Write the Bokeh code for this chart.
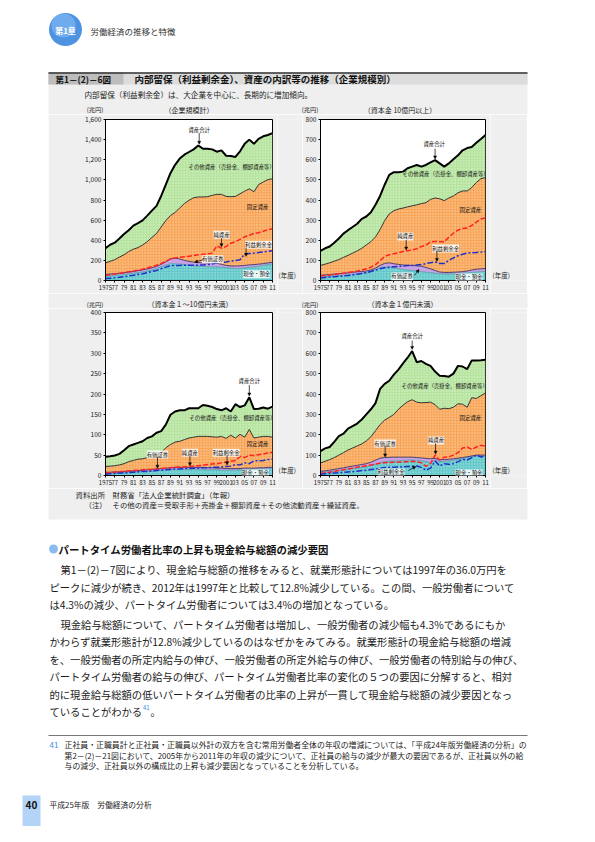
from bokeh.plotting import figure
from bokeh.layouts import column, row
from bokeh.models import (Range1d, FixedTicker, NumeralTickFormatter, Label, Arrow,
                          NormalHead, Spacer)
from bokeh.embed import file_html
from bokeh.resources import INLINE
from bokeh.core.properties import value

FONT = "Noto Sans CJK JP"
GRAY = "#efefef"

years = list(range(1975, 2012))
x_tick_years = [1975, 1977, 1979, 1981, 1983, 1985, 1987, 1989, 1991, 1993, 1995,
                1997, 1999, 2001, 2003, 2005, 2007, 2009, 2011]
x_tick_labels = ["1975", "77", "79", "81", "83", "85", "87", "89", "91", "93", "95",
                 "97", "99", "2001", "03", "05", "07", "09", "11"]

# ---------------- 企業規模計 (兆円) ----------------
total1 = [321, 355, 376, 418, 462, 499, 545, 570, 598, 645, 694, 742, 840, 953, 1066, 1150,
          1212, 1250, 1277, 1303, 1342, 1310, 1310, 1303, 1280, 1293, 1240, 1238, 1228, 1284,
          1358, 1400, 1358, 1407, 1433, 1446, 1465]
fixed1 = [175, 191, 207, 233, 256, 288, 311, 327, 353, 386, 428, 467, 532, 596, 645, 677,
          720, 765, 797, 823, 830, 830, 833, 846, 856, 856, 836, 833, 836, 862,
          888, 911, 882, 953, 979, 1002, 1011]
sec1 = [60, 64, 68, 72, 77, 84, 90, 98, 106, 115, 126, 140, 160, 185, 214, 224,
        214, 200, 190, 182, 178, 176, 175, 175, 172, 160, 150, 145, 143, 146,
        150, 155, 158, 162, 168, 175, 182]
cash1 = [42, 46, 50, 55, 60, 66, 72, 78, 85, 94, 104, 118, 135, 152, 168, 166,
         163, 158, 152, 147, 143, 140, 138, 136, 134, 132, 128, 122, 117, 120,
         125, 130, 135, 140, 150, 158, 165]
net1 = [52, 58, 64, 71, 78, 86, 94, 103, 113, 125, 138, 152, 170, 192, 214, 224,
        230, 236, 241, 248, 256, 260, 266, 272, 344, 321, 337, 370, 386, 408,
        434, 450, 467, 475, 490, 505, 515]
ret1 = [19, 23, 27, 32, 38, 45, 52, 60, 68, 78, 90, 100, 117, 133, 149, 150,
        150, 151, 152, 152, 152, 155, 159, 165, 175, 180, 185, 192, 198, 207,
        263, 268, 272, 278, 285, 290, 295]

# ---------------- 資本金10億円以上 ----------------
total2 = [147, 160, 169, 188, 209, 233, 250, 266, 282, 306, 318, 339, 376, 420, 476, 525,
          538, 538, 541, 558, 566, 574, 566, 574, 587, 598, 582, 566, 582, 603,
          622, 647, 658, 663, 684, 703, 723]
fixed2 = [75, 81, 88, 96, 104, 115, 125, 136, 147, 160, 177, 193, 217, 253, 298, 331,
          347, 355, 360, 366, 371, 376, 382, 387, 403, 410, 406, 397, 410, 420,
          436, 445, 445, 462, 487, 506, 512]
sec2 = [26, 28, 30, 32, 34, 36, 38, 41, 43, 45, 47, 52, 62, 75, 85, 88,
        83, 80, 77, 76, 75, 73, 71, 65, 58, 50, 42, 40, 40, 41,
        42, 44, 47, 52, 56, 58, 60]
cash2 = [18, 19, 21, 23, 25, 27, 29, 31, 33, 36, 39, 45, 55, 63, 68, 66,
         63, 59, 55, 52, 50, 47, 44, 41, 39, 36, 33, 32, 32, 33,
         34, 36, 38, 40, 42, 44, 45]
net2 = [23, 25, 27, 30, 33, 36, 39, 43, 47, 52, 58, 66, 79, 98, 120, 128,
        133, 138, 144, 148, 152, 158, 169, 175, 192, 194, 193, 192, 215, 235,
        250, 258, 261, 274, 290, 306, 310]
ret2 = [13, 15, 17, 19, 21, 23, 25, 28, 31, 35, 39, 45, 52, 58, 63, 66,
        68, 70, 72, 74, 75, 77, 79, 84, 88, 92, 84, 84, 100, 112,
        123, 130, 136, 138, 139, 141, 144]

# ---------------- 資本金1～10億円未満 ----------------
total3 = [46, 47, 49, 53, 62, 72, 76, 80, 84, 92, 96, 105, 109, 125, 149, 157,
          160, 160, 165, 165, 165, 173, 171, 168, 163, 160, 165, 157, 175, 168,
          172, 192, 163, 164, 167, 164, 169]
fixed3 = [22, 23, 24, 26, 29, 34, 37, 40, 41, 44, 48, 52, 56, 68, 76, 82,
          84, 88, 92, 94, 96, 96, 96, 95, 94, 96, 91, 99, 92, 101,
          94, 113, 92, 94, 96, 96, 94]
sec3 = [8, 8, 9, 9, 10, 11, 11, 12, 13, 14, 15, 16, 17, 18, 19, 20,
        20, 20, 20, 20, 20, 20, 19, 19, 18, 18, 17, 17, 17, 17,
        18, 18, 18, 19, 19, 20, 20]
cash3 = [5, 5, 6, 6, 7, 8, 8, 9, 10, 10, 11, 12, 13, 14, 15, 15,
         15, 15, 15, 15, 15, 15, 14, 14, 14, 13, 13, 13, 13, 14,
         15, 15, 15, 16, 16, 16, 17]
net3 = [6, 7, 8, 9, 10, 11, 12, 13, 14, 15, 15, 16, 17, 18, 19, 20,
        21, 21, 22, 23, 24, 25, 27, 28, 29, 31, 33, 35, 37, 47,
        44, 50, 49, 51, 53, 55, 57]
ret3 = [3, 4, 5, 6, 6, 7, 8, 9, 10, 10, 11, 12, 13, 14, 15, 16,
        16, 17, 17, 18, 18, 19, 19, 20, 20, 21, 22, 23, 27, 26,
        31, 29, 36, 36, 37, 39, 40]

# ---------------- 資本金1億円未満 ----------------
total4 = [120, 133, 140, 165, 193, 205, 230, 242, 255, 275, 300, 325, 355, 425, 450, 465,
          495, 520, 550, 578, 611, 556, 562, 548, 538, 510, 490, 488, 485, 500,
          538, 535, 522, 565, 565, 566, 568]
fixed4 = [62, 70, 78, 88, 100, 112, 125, 135, 145, 155, 170, 190, 220, 250, 272, 285,
          300, 325, 345, 362, 372, 360, 357, 358, 360, 348, 325, 330, 328, 335,
          352, 350, 335, 382, 378, 392, 405]
sec4 = [20, 23, 26, 30, 34, 38, 42, 46, 50, 54, 58, 65, 75, 85, 88, 89,
        90, 90, 90, 90, 90, 88, 86, 84, 82, 84, 78, 78, 80, 82,
        85, 88, 92, 96, 100, 100, 100]
cash4 = [15, 17, 19, 22, 25, 28, 31, 34, 37, 40, 42, 48, 55, 62, 68, 70,
         71, 72, 74, 75, 76, 74, 72, 68, 63, 75, 68, 70, 71, 74,
         79, 83, 88, 92, 96, 95, 94]
net4 = [10, 13, 16, 20, 24, 28, 32, 36, 40, 44, 48, 52, 56, 60, 63, 64,
        65, 66, 67, 68, 70, 68, 62, 45, 58, 100, 75, 90, 92, 100,
        112, 135, 140, 128, 140, 148, 144]
ret4 = [6, 8, 10, 12, 14, 15, 17, 19, 21, 24, 26, 29, 32, 36, 39, 40,
        41, 42, 42, 44, 45, 47, 40, 26, 36, 71, 47, 58, 55, 58,
        68, 79, 76, 88, 100, 91, 96]

subtitles = ["（企業規模計）", "（資本金 10億円以上）", "（資本金１～10億円未満）", "（資本金１億円未満）"]
unit_label = "(兆円)"
year_label = "(年度)"

TEAL = "#5cc6c8"
LILAC = "#c7a3e3"
ORANGE = "#f8a353"
GREEN = "#b3e39b"

LAB_OTHER = "その他資産（売掛金、棚卸資産等）"


def idx(y):
    return y - 1975


def make_chart(total, fixed, sec, cash, net, ret, ymax, ystep,
               width, height, bl, br, bt, bb, ann):
    p = figure(width=width, height=height, x_range=Range1d(1975, 2011),
               y_range=Range1d(0, ymax), output_backend="svg", toolbar_location=None,
               min_border_left=bl, min_border_right=br, min_border_top=bt,
               min_border_bottom=bb)
    p.background_fill_color = "white"
    p.border_fill_color = GRAY
    p.outline_line_color = "black"
    p.outline_line_width = 1
    p.grid.grid_line_color = None
    zeros = [0] * len(years)
    hatch = dict(hatch_pattern="dot", hatch_color="white", hatch_alpha=0.7,
                 hatch_scale=2.8, hatch_weight=0.8)
    p.varea(x=years, y1=zeros, y2=cash, fill_color=TEAL, **hatch)
    p.varea(x=years, y1=cash, y2=sec, fill_color=LILAC)
    p.varea(x=years, y1=sec, y2=fixed, fill_color=ORANGE, **hatch)
    p.varea(x=years, y1=fixed, y2=total, fill_color=GREEN, **hatch)
    p.line(years, cash, line_color="#2d8e96", line_width=0.6)
    p.line(years, sec, line_color="#3b2f66", line_width=0.9)
    p.line(years, fixed, line_color="#222222", line_width=0.9)
    p.line(years, net, line_color="#ff2222", line_width=1.5, line_dash="5 2")
    p.line(years, ret, line_color="#1f30c8", line_width=1.5, line_dash="6 2 2 2")
    p.line(years, total, line_color="black", line_width=2)

    p.yaxis.ticker = FixedTicker(ticks=list(range(0, ymax + 1, ystep)))
    p.yaxis.formatter = NumeralTickFormatter(format="0,0")
    p.xaxis.ticker = FixedTicker(ticks=x_tick_years)
    p.xaxis.major_label_overrides = dict(zip(x_tick_years, x_tick_labels))
    for ax in (p.xaxis, p.yaxis):
        ax.major_label_text_font = FONT
        ax.major_label_text_color = "#222222"
        ax.major_tick_in = 0
        ax.major_tick_out = 2
        ax.minor_tick_in = 0
        ax.minor_tick_out = 0
        ax.axis_line_color = "black"
        ax.major_label_standoff = 2
    p.yaxis.major_label_text_font_size = "6.6px"
    p.xaxis.major_label_text_font_size = "6px"

    for (tx, ty, txt_, boxed, arrow) in ann:
        lab = Label(x=tx, y=ty, text=txt_, text_font=FONT, text_font_size="5.4px",
                    text_align="center", text_baseline="middle", text_color="#111111")
        if boxed:
            lab.background_fill_color = "white"
            lab.background_fill_alpha = 0.85
        p.add_layout(lab)
        if arrow is not None:
            x0, y0, x1, y1 = arrow
            p.add_layout(Arrow(end=NormalHead(size=3, line_color="black",
                                              fill_color="black", line_width=0.5),
                               x_start=x0, y_start=y0, x_end=x1, y_end=y1,
                               line_color="black", line_width=0.7))
    return p


ann1 = [
    (1995.2, 1500, "資産合計", False, (1995.2, 1465, 1995.2, total1[idx(1995)] + 12)),
    (2002.2, 1130, LAB_OTHER, False, None),
    (2007.8, 726, "固定資産", False, None),
    (2000.0, 454, "純資産", True, (2000.0, 420, 2000.0, net1[idx(2000)] + 15)),
    (2008.0, 355, "利益剰余金", True, (2005.3, 325, 2005.3, 240)),
    (1998.1, 212, "有価証券", True, (1996.0, 205, 1994.2, sec1[idx(1994)])),
    (2007.6, 63, "現金・預金", True, None),
]
ann2 = [
    (1999.8, 676, "資産合計", False, (2000.0, 655, 2000.0, total2[idx(2000)] + 6)),
    (2002.3, 527, LAB_OTHER, False, None),
    (2007.7, 348, "固定資産", False, None),
    (1993.5, 219, "純資産", True, (1993.7, 202, 1993.7, net2[idx(1994)] + 3)),
    (2002.3, 159, "利益剰余金", True, (2000.4, 146, 2000.4, ret2[idx(2000)] + 3)),
    (1992.8, 20, "有価証券", True, (1995.5, 25, 1996.5, 55)),
    (2007.4, 15, "現金・預金", True, None),
]
ann3 = [
    (2006.0, 231, "資産合計", False, (2006.0, 222, 2006.0, total3[idx(2006)] + 3)),
    (2002.4, 140, LAB_OTHER, False, None),
    (2007.8, 78.5, "固定資産", False, None),
    (1986.2, 51.5, "有価証券", True, (1986.2, 45, 1986.2, sec3[idx(1986)] + 2)),
    (1993.2, 56, "純資産", True, (1993.2, 49, 1993.2, net3[idx(1993)] + 2)),
    (2001.0, 56, "利益剰余金", True, (2001.2, 49, 2001.2, ret3[idx(2001)] + 4)),
    (2007.3, 5, "現金・預金", True, None),
]
ann4 = [
    (1995.0, 687, "資産合計", False, (1995.0, 662, 1995.0, total4[idx(1995)] + 8)),
    (2002.1, 437, LAB_OTHER, False, None),
    (2007.7, 280, "固定資産", False, None),
    (1989.1, 157, "有価証券", True, (1989.1, 143, 1989.1, sec4[idx(1989)] + 3)),
    (2000.2, 172, "純資産", True, (2000.1, 158, 2000.1, net4[idx(2000)] + 5)),
    (1990.4, 15, "利益剰余金", True, (1994.2, 25, 1995.8, ret4[idx(1996)] - 3)),
    (2007.4, 10, "現金・預金", True, None),
]

# chart figures: row 1 page y 122-301 (frame 127-288); row 2 page y 316-496 (frame 320-483)
c1 = make_chart(total1, fixed1, sec1, cash1, net1, ret1, 1600, 200, 229, 179, 57, 5, 5, 13, ann1)
c2 = make_chart(total2, fixed2, sec2, cash2, net2, ret2, 800, 100, 188, 179, 17, 5, 5, 13, ann2)
c3 = make_chart(total3, fixed3, sec3, cash3, net3, ret3, 400, 50, 229, 180, 57, 5, 4, 13, ann3)
c4 = make_chart(total4, fixed4, sec4, cash4, net4, ret4, 800, 100, 188, 180, 17, 5, 4, 13, ann4)


def page_fig(x0, x1, y0, y1, bg="white"):
    p = figure(width=x1 - x0, height=y1 - y0, x_range=Range1d(x0, x1),
               y_range=Range1d(y1, y0), output_backend="svg", toolbar_location=None,
               x_axis_location=None, y_axis_location=None, min_border=0)
    p.outline_line_color = None
    p.background_fill_color = bg
    p.border_fill_color = bg
    p.xgrid.visible = False
    p.ygrid.visible = False
    return p


def txt(p, x, y, s, size, color="#222222", bold=False, align="left"):
    p.text(x=[x], y=[y], text=[s], text_font=value(FONT), text_font_size=size,
           text_color=color, text_baseline="middle", text_align=align,
           text_font_style="bold" if bold else "normal")


def chart_heads(p, y, sub_left, sub_right, subx_left, subx_right):
    txt(p, 102.5, y, unit_label, "6.2px", align="center")
    txt(p, subx_left, y, sub_left, "7px", align="center")
    txt(p, 317.5, y, unit_label, "6.2px", align="center")
    txt(p, subx_right, y, sub_right, "7px", align="center")


# ---------------- header (page y 8-122) ----------------
hdr = page_fig(8, 587, 8, 122)
hdr.circle(x=[73], y=[37], radius=16.5, fill_color="#4e92e2", line_color=None)
hdr.circle(x=[71], y=[33], radius=12, fill_color="#8cc1f5", fill_alpha=0.55, line_color=None)
txt(hdr, 73, 38, "第1章", "8px", color="white", bold=True, align="center")
txt(hdr, 98, 38, "労働経済の推移と特徴", "8.5px", color="#333333")
hdr.quad(left=[56], right=[535], top=[80], bottom=[122], fill_color=GRAY, line_color=None)
hdr.quad(left=[56], right=[535], top=[80], bottom=[92], fill_color="#dcdcdc", line_color=None)
hdr.quad(left=[56], right=[131], top=[80], bottom=[92], fill_color="#bdbdbd", line_color=None)
hdr.segment(x0=[56], y0=[80.5], x1=[535], y1=[80.5], line_color="#333333", line_width=1.5)
txt(hdr, 63, 86.5, "第1－(2)－6図", "8.5px", color="#111111", bold=True)
txt(hdr, 142, 86.5, "内部留保（利益剰余金）、資産の内訳等の推移（企業規模別）", "9.5px",
    color="#111111", bold=True)
txt(hdr, 92, 101.5, "内部留保（利益剰余金）は、大企業を中心に、長期的に増加傾向。", "7.6px",
    color="#222222")
chart_heads(hdr, 117, subtitles[0], subtitles[1], 196.5, 407.5)

# ---------------- strip between the two chart rows (page y 301-316) ----------------
mid = page_fig(8, 587, 301, 316)
mid.quad(left=[56], right=[535], top=[301], bottom=[316], fill_color=GRAY, line_color=None)
chart_heads(mid, 311.7, subtitles[2], subtitles[3], 197.5, 410)


def year_strips(y0, y1, ty):
    a = page_fig(285, 310, y0, y1, bg=GRAY)
    txt(a, 286, ty, year_label, "6.5px")
    b = page_fig(498, 535, y0, y1, bg=GRAY)
    txt(b, 500, ty, year_label, "6.5px")
    return a, b


s1a, s1b = year_strips(122, 301, 295)
s2a, s2b = year_strips(316, 496, 490)

# ---------------- footer (page y 496-834) ----------------
ftr = page_fig(8, 587, 496, 834)
ftr.quad(left=[56], right=[535], top=[496], bottom=[527], fill_color=GRAY, line_color=None)
txt(ftr, 83, 502, "資料出所", "7.4px")
txt(ftr, 120, 502, "財務省「法人企業統計調査」（年報）", "7.4px")
txt(ftr, 92, 512, "（注）", "7.4px")
txt(ftr, 120, 512, "その他の資産＝受取手形＋売掛金＋棚卸資産＋その他流動資産＋繰延資産。", "7.4px")

ftr.circle(x=[61], y=[556.5], radius=4.5, fill_color="#8bbcf0", line_color=None)
txt(ftr, 66, 556.5, "パートタイム労働者比率の上昇も現金給与総額の減少要因", "10.4px",
    color="#111111", bold=True)

body = [
    (68, 577, "第1－(2)－7図により、現金給与総額の推移をみると、就業形態計については1997年の36.0万円を"),
    (57, 594.5, "ピークに減少が続き、2012年は1997年と比較して12.8%減少している。この間、一般労働者について"),
    (57, 612, "は4.3%の減少、パートタイム労働者については3.4%の増加となっている。"),
    (68, 631.5, "現金給与総額について、パートタイム労働者は増加し、一般労働者の減少幅も4.3%であるにもか"),
    (57, 649, "かわらず就業形態計が12.8%減少しているのはなぜかをみてみる。就業形態計の現金給与総額の増減"),
    (57, 666.5, "を、一般労働者の所定内給与の伸び、一般労働者の所定外給与の伸び、一般労働者の特別給与の伸び、"),
    (57, 684, "パートタイム労働者の給与の伸び、パートタイム労働者比率の変化の５つの要因に分解すると、相対"),
    (57, 701.5, "的に現金給与総額の低いパートタイム労働者の比率の上昇が一貫して現金給与総額の減少要因となっ"),
    (57, 719, "ていることがわかる"),
]
for bx, by, s in body:
    txt(ftr, bx, by, s, "10.3px", color="#1a1a1a")
txt(ftr, 150.5, 715, "41", "6px", color="#3a8ee0")
txt(ftr, 158, 719, "。", "10.3px", color="#1a1a1a")

ftr.segment(x0=[56], y0=[743], x1=[535], y1=[743], line_color="#555555", line_width=0.8)
txt(ftr, 57, 752, "41", "7.9px", color="#3a8ee0")
notes = [
    (752, "正社員・正職員計と正社員・正職員以外計の双方を含む常用労働者全体の年収の増減については、「平成24年版労働経済の分析」の"),
    (762.5, "第2－(2)－21図において、2005年から2011年の年収の減少について、正社員の給与の減少が最大の要因であるが、正社員以外の給"),
    (773, "与の減少、正社員以外の構成比の上昇も減少要因となっていることを分析している。"),
]
for ny, s in notes:
    txt(ftr, 72, ny, s, "7.9px", color="#222222")

ftr.quad(left=[30], right=[48], top=[803], bottom=[834], fill_color="#b4d4f7", line_color=None)
txt(ftr, 39, 812, "40", "10px", color="#111111", bold=True, align="center")
txt(ftr, 57, 812, "平成25年版　労働経済の分析", "7.8px", color="#222222")

row1 = row(Spacer(width=48, height=179), c1, s1a, c2, s1b, Spacer(width=52, height=179))
row2 = row(Spacer(width=48, height=180), c3, s2a, c4, s2b, Spacer(width=52, height=180))
layout = column(hdr, row1, mid, row2, ftr)

open("out.html", "w").write(file_html(layout, INLINE))
